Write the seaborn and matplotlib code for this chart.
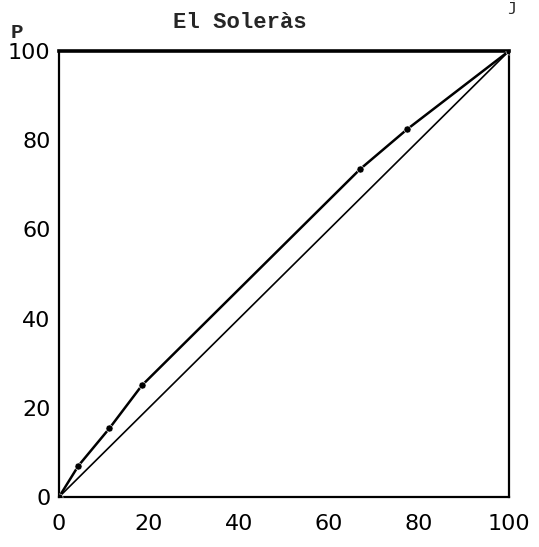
import seaborn as sns
import matplotlib.pyplot as plt
import pandas as pd

# accumulated share of population (J) vs share of P
j_share = [0, 4.3, 11.2, 18.4, 66.9, 77.3, 100]
p_share = [0, 7.0, 15.4, 25.0, 73.5, 82.4, 100]
equality = [0, 100]
ticks = [0, 20, 40, 60, 80, 100]

curve = pd.DataFrame({'J': j_share, 'P': p_share})
diag = pd.DataFrame({'J': equality, 'P': equality})

sns.set_style("white")
fig = plt.figure(figsize=(5.39, 5.47), dpi=100)
ax = fig.add_axes([0.1095, 0.0914, 0.8349, 0.8154])

sns.lineplot(data=diag, x='J', y='P', color='black', linewidth=1.2, ax=ax)
sns.lineplot(data=curve, x='J', y='P', color='black', linewidth=1.8, ax=ax)
sns.scatterplot(data=curve, x='J', y='P', color='black', s=26, ax=ax, zorder=5)

ax.set_xlim(0, 100)
ax.set_ylim(0, 100)
ax.set_xticks(ticks)
ax.set_yticks(ticks)
ax.set_xlabel('')
ax.set_ylabel('')
ax.tick_params(axis='x', length=0, labelsize=16, pad=12, labelcolor='black')
ax.tick_params(axis='y', length=0, labelsize=16, pad=6, labelcolor='black')
for lab in ax.get_xticklabels() + ax.get_yticklabels():
    lab.set_fontfamily('DejaVu Sans')
for side in ['left', 'bottom', 'right']:
    ax.spines[side].set_color('black')
    ax.spines[side].set_linewidth(1.6)
ax.spines['top'].set_color('black')
ax.spines['top'].set_linewidth(2.6)

fig.text(240 / 539, 1 - 22 / 547, 'El Soleràs', family='Liberation Mono',
         fontsize=16, fontweight='bold', ha='center', va='center')
fig.text(17 / 539, 1 - 32 / 547, 'P', family='Liberation Mono',
         fontsize=15, fontweight='bold', ha='center', va='center')
fig.text(512 / 539, 1 - 6 / 547, 'j', family='Liberation Mono',
         fontsize=12, ha='center', va='center')

fig.savefig('out.png', dpi=100)
